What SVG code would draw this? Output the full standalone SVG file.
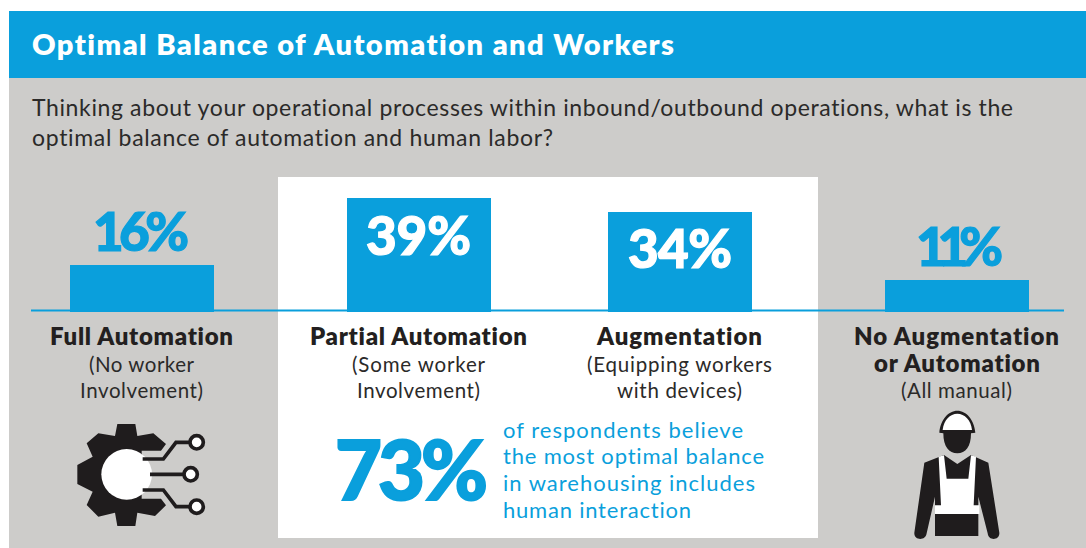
<svg xmlns="http://www.w3.org/2000/svg" width="1086" height="548" viewBox="0 0 1086 548">
<style>
text{font-family:Lato,"Liberation Sans",sans-serif;font-variant-ligatures:none}
.b{fill:#0a9fdc}
.t{font-size:23px;fill:#2b2a29}
.h{font-size:24px;font-weight:800;fill:#231f20;text-anchor:middle}
.s{font-size:20.500px;fill:#2b2a29;text-anchor:middle}
.p{font-size:53px;font-weight:900;text-anchor:middle;stroke-width:1.200px}
.sb{stroke:#0a9fdc}
.sw{stroke:#fff}
.q{font-size:22px;fill:#0a9fdc}
.k{fill:#1f1c1d}
</style>
<rect width="1086" height="548" fill="#fff"/>
<rect x="9" y="78" width="1077" height="470" fill="#cdccca"/>
<g id="header">
<rect class="b" x="9" y="11" width="1077" height="67"/>
<text x="32" y="55" font-size="29" font-weight="800" fill="#fff" textLength="642">Optimal Balance of Automation and Workers</text>
</g>
<g id="question">
<text class="t" x="32" y="116" textLength="981">Thinking about your operational processes within inbound/outbound operations, what is the</text>
<text class="t" x="32" y="146" textLength="521">optimal balance of automation and human labor?</text>
</g>
<rect id="highlight" x="278" y="177" width="540" height="361" fill="#fff"/>
<g id="connectors"><path d="M31 310.500H1064" stroke="#0a9fdc" stroke-width="2" fill="none"/></g>
<g id="full-automation">
<rect class="b" x="70" y="265" width="144" height="47"/>
<text class="p b sb" x="141" y="251" textLength="96">16%</text>
<text class="h" x="141.500" y="345" textLength="183">Full Automation</text>
<text class="s" x="141.500" y="372" textLength="105">(No worker</text>
<text class="s" x="141.500" y="398" textLength="123">Involvement)</text>
<g transform="translate(60 410) scale(.33333)">
<path class="k" d="M172 42H226L232 78 280 70 318 102 303 122H245V266H303L318 286 285 318 232 308 226 348H172L165 308 115 320 80 285 98 245 52 222V165L98 140 80 100 115 70 165 78Z"/>
<circle cx="200" cy="193" r="76" fill="#fff"/>
<g fill="none" stroke="#1f1c1d" stroke-width="11">
<path d="M248 147H310L348 97H392M270 193H372M248 240H310L348 290H392"/>
<circle cx="410" cy="97" r="20" fill="#fff"/><circle cx="392" cy="193" r="20" fill="#fff"/><circle cx="410" cy="290" r="20" fill="#fff"/>
</g></g>
</g>
<g id="partial-automation">
<rect class="b" x="347" y="198" width="144" height="114"/>
<text class="p sw" fill="#fff" x="418.500" y="255" textLength="105">39%</text>
<text class="h" x="418.500" y="345" textLength="217">Partial Automation</text>
<text class="s" x="418.500" y="372" textLength="133">(Some worker</text>
<text class="s" x="418.500" y="398" textLength="123">Involvement)</text>
</g>
<g id="augmentation">
<rect class="b" x="608" y="212" width="144" height="100"/>
<text class="p sw" fill="#fff" x="680" y="268" textLength="104">34%</text>
<text class="h" x="679.500" y="345" textLength="165">Augmentation</text>
<text class="s" x="679.500" y="372" textLength="185">(Equipping workers</text>
<text class="s" x="679.500" y="398" textLength="125">with devices)</text>
</g>
<g id="no-automation">
<rect class="b" x="885" y="280" width="144" height="32"/>
<text class="p b sb" x="959.500" y="266" textLength="87">11%</text>
<text class="h" x="956.500" y="345" textLength="205">No Augmentation</text>
<text class="h" x="957" y="372" textLength="166">or Automation</text>
<text class="s" x="956.500" y="398" textLength="111">(All manual)</text>
<g transform="translate(895 400) scale(.33333)">
<path class="k" d="M133 98C136 60 160 32 187 32 214 32 238 60 241 98L228 100C228 140 212 160 187 160 162 160 145 140 145 100Z"/>
<path d="M143 90C146 60 165 41 187 41 209 41 228 60 231 90Z" fill="#fff"/>
<path class="k" d="M147 165 187 192 228 165 280 188 313 398C315 422 280 424 278 400L250 290V408H120V290L95 400C92 424 56 422 58 398L88 188Z"/>
<path d="M131 170 147 166 155 236H220L228 166 243 170 236 316H253V342H120V316H138Z" fill="#fff"/>
</g>
</g>
<g id="callout">
<text class="b sb" stroke-width="2" x="411.500" y="500" font-size="81" font-weight="900" text-anchor="middle" textLength="153">73%</text>
<text class="q" x="503" y="438" textLength="240">of respondents believe</text>
<text class="q" x="503" y="464" textLength="261">the most optimal balance</text>
<text class="q" x="503" y="491" textLength="252">in warehousing includes</text>
<text class="q" x="503" y="518" textLength="188">human interaction</text>
</g>
</svg>
